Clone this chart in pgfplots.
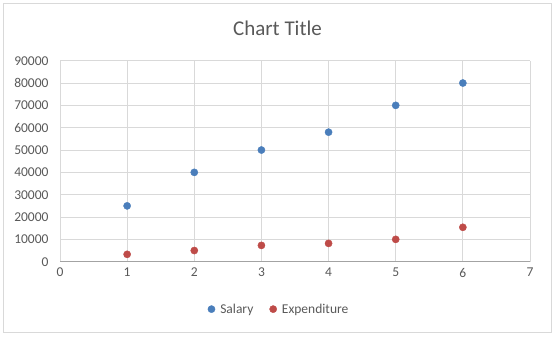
\documentclass[border=0pt]{standalone}
\usepackage{fontspec}
\setmainfont{Carlito}
\usepackage{pgfplots}
\pgfplotsset{compat=1.18}
\definecolor{sal}{HTML}{4A7EBB}
\definecolor{exp}{HTML}{BE4B48}
\definecolor{gridc}{HTML}{D9D9D9}
\definecolor{txt}{HTML}{595959}
\begin{document}
\begin{tikzpicture}
\path[use as bounding box] (0,0) rectangle (555bp,337bp);
\draw[gridc, line width=0.8bp] (3.5bp,4.5bp) rectangle (551.5bp,333.5bp);
\node[text=txt, font=\fontsize{21bp}{24bp}\selectfont] at (277.5bp,309bp) {Chart Title};
\begin{axis}[
  at={(60bp,75.3bp)}, anchor=south west,
  scale only axis, width=470bp, height=201bp,
  xmin=0, xmax=7, ymin=0, ymax=90000,
  xtick={0,...,7}, ytick={0,10000,...,90000},
  grid=major, major grid style={gridc, line width=0.8bp},
  axis line style={draw=none},
  tick style={draw=none},
  scaled y ticks=false,
  /pgf/number format/assume math mode=true,
  /pgf/number format/set thousands separator={},
  ticklabel style={text=txt, font=\fontsize{13.5bp}{16bp}\selectfont},
  yticklabel style={xshift=-8bp},
  xticklabel style={yshift=-3bp},
  legend columns=2,
  legend style={at={(0.466,-0.236)}, anchor=center, draw=none, fill=none,
    font=\fontsize{13.5bp}{16bp}\selectfont, text=txt,
    /tikz/every even column/.append style={column sep=14bp}},
  legend image code/.code={\filldraw[#1] (0bp,0bp) circle (3.6bp);},
  legend cell align=left,
  clip=false,
]
\draw[color=gridc!75!black, line width=0.8bp] (axis cs:0,0) -- (axis cs:7,0);
\addplot[only marks, mark=*, mark size=3.6bp, color=sal, fill=sal, mark options={fill=sal, draw=sal}]
  coordinates {(1,25000) (2,40000) (3,50000) (4,58000) (5,70000) (6,80000)};
\addlegendentry{\hspace{3bp}Salary}
\addplot[only marks, mark=*, mark size=3.6bp, color=exp, fill=exp, mark options={fill=exp, draw=exp}]
  coordinates {(1,3300) (2,5000) (3,7300) (4,8200) (5,10000) (6,15400)};
\addlegendentry{\hspace{3bp}Expenditure}
\end{axis}
\end{tikzpicture}
\end{document}
